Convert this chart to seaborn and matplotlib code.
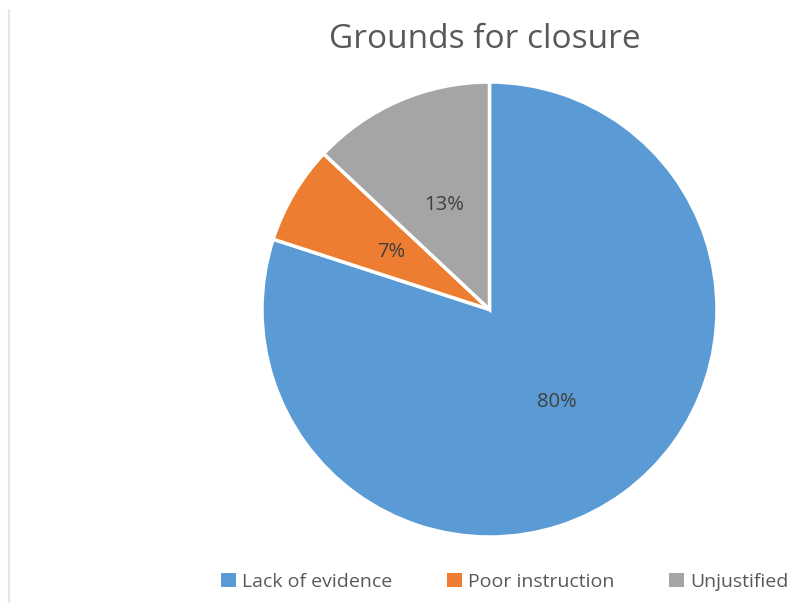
import matplotlib
matplotlib.use("Agg")
import matplotlib.pyplot as plt
import seaborn as sns
from matplotlib.patches import Patch
from matplotlib.lines import Line2D

categories = ["Lack of evidence", "Poor instruction", "Unjustified"]
values = [80, 7, 13]
colors = ["#5B9BD5", "#ED7D31", "#A5A5A5"]
title = "Grounds for closure"

sns.set_theme(style="white")
plt.rcParams['font.family'] = ['Open Sans', 'DejaVu Sans']

W, H = 791, 603
fig = plt.figure(figsize=(W / 100, H / 100), dpi=100)
fig.patch.set_facecolor("white")

cx, cy, r = 489.5, 309.5, 227.5
ax = fig.add_axes([(cx - r) / W, (H - cy - r) / H, 2 * r / W, 2 * r / H])
wedges, texts, autotexts = ax.pie(
    values, colors=colors, startangle=90, counterclock=False,
    autopct=lambda p: f"{p:.0f}%", pctdistance=0.5,
    wedgeprops=dict(edgecolor="white", linewidth=2.5),
    textprops=dict(fontsize=14.5, color="#404040"), radius=1)
ax.set_xlim(-1, 1)
ax.set_ylim(-1, 1)
ax.set_aspect("equal")
ax.axis("off")

fig.text(485 / W, 1 - 48 / H, title, ha="center", va="baseline",
         fontsize=24, color="#595959")

handles = [Patch(facecolor=c, edgecolor="none") for c in colors]
leg = fig.legend(handles, categories, loc="center", ncol=3,
                 bbox_to_anchor=(505 / W, 1 - 582 / H), frameon=False,
                 handlelength=0.75, handleheight=0.75, handletextpad=0.35,
                 columnspacing=2.8, fontsize=14, labelcolor="#595959")

fig.add_artist(Line2D([8.5 / W, 8.5 / W], [0, 1 - 10 / H],
                      transform=fig.transFigure, color="#E6E6E6", linewidth=1.5))

fig.savefig("out.png", dpi=100, facecolor="white")
